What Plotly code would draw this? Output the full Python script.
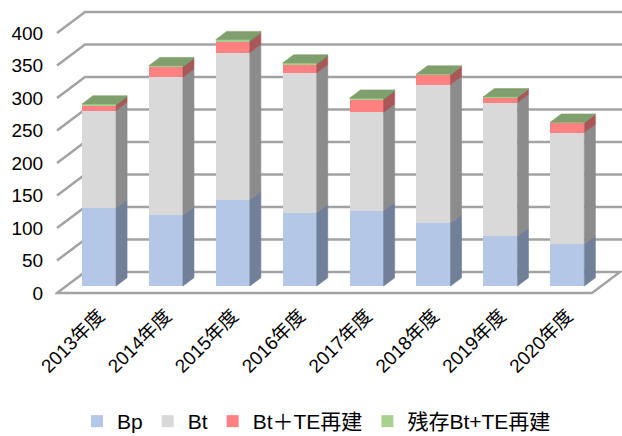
import plotly.graph_objects as go

# ---------------- data ----------------
years = ["2013年度", "2014年度", "2015年度", "2016年度",
         "2017年度", "2018年度", "2019年度", "2020年度"]
bp = [120, 109, 133, 113, 116, 97, 77, 65]
bt = [150, 212, 226, 215, 151, 213, 205, 171]
bt_te = [8, 16, 17, 13, 20, 15, 8, 15]
zanzon = [2, 2, 3, 2, 2, 1, 1, 1]
series_names = ["Bp", "Bt", "Bt＋TE再建", "残存Bt+TE再建"]
y_ticks = [0, 50, 100, 150, 200, 250, 300, 350, 400]

# ---------------- style ----------------
front_colors = ["#b4c7e7", "#d9d9d9", "#ff8080", "#a9d18e"]
side_colors = ["#717f98", "#8c8c8c", "#a85858", "#6f8f5f"]
top_color = "#7f9f6d"
grid_color = "#a3a3a3"
FONT = "Arial, Liberation Sans, Noto Sans CJK JP, sans-serif"

W, H = 622, 436
PX_PER_CAT = 66.9
PX_PER_UNIT = 0.65
BAR_W = 0.51
BAR_DX = 11 / PX_PER_CAT
BAR_DY = 8.25 / PX_PER_UNIT
FLOOR_DX = 28 / PX_PER_CAT
FLOOR_DY = 21 / PX_PER_UNIT
FRONT_DY = -7 / PX_PER_UNIT
X_FRONT_LEFT = (57 - 99) / PX_PER_CAT
X_FRONT_RIGHT = (592 - 99) / PX_PER_CAT
M_L, M_T, M_B = 55, 5, 136
PLOT_H = H - M_B - M_T
PLOT_W = W - M_L
x_range = [(M_L - 99) / PX_PER_CAT, (W - 99) / PX_PER_CAT]
y_range = [(286 - (H - M_B)) / PX_PER_UNIT, (286 - M_T) / PX_PER_UNIT]

series = [bp, bt, bt_te, zanzon]
xs = list(range(len(years)))

fig = go.Figure()

# front faces (real stacked bars)
for name, vals, col in zip(series_names, series, front_colors):
    fig.add_trace(go.Bar(x=xs, y=vals, name=name, width=BAR_W,
                         marker=dict(color=col, line=dict(width=0))))

# side faces
cum = [0] * len(xs)
for k, vals in enumerate(series):
    px_, py_ = [], []
    for i, v in enumerate(vals):
        y0, y1 = cum[i], cum[i] + v
        xr = i + BAR_W / 2
        px_ += [xr, xr + BAR_DX, xr + BAR_DX, xr, xr, None]
        py_ += [y0, y0 + BAR_DY, y1 + BAR_DY, y1, y0, None]
        cum[i] = y1
    fig.add_trace(go.Scatter(x=px_, y=py_, mode="lines", fill="toself",
                             fillcolor=side_colors[k], line=dict(width=0.6, color=side_colors[k]),
                             hoverinfo="skip", showlegend=False))

# top faces
tx, ty = [], []
for i, top in enumerate(cum):
    xl, xr = i - BAR_W / 2, i + BAR_W / 2
    tx += [xl, xl + BAR_DX, xr + BAR_DX, xr, xl, None]
    ty += [top, top + BAR_DY, top + BAR_DY, top, top, None]
fig.add_trace(go.Scatter(x=tx, y=ty, mode="lines", fill="toself",
                         fillcolor=top_color, line=dict(width=0.6, color=top_color),
                         hoverinfo="skip", showlegend=False))

# back-wall gridlines + floor (below traces)
shapes = []
for t in y_ticks:
    yf = t + FRONT_DY
    yb = yf + FLOOR_DY
    xb = X_FRONT_LEFT + FLOOR_DX
    if t == 0:
        path = (f"M {X_FRONT_LEFT},{yf} L {xb},{yb} L {X_FRONT_RIGHT + FLOOR_DX},{yb} "
                f"L {X_FRONT_RIGHT},{yf} Z")
    else:
        path = f"M {X_FRONT_LEFT},{yf} L {xb},{yb} L {x_range[1] + 0.1},{yb}"
    shapes.append(dict(type="path", path=path, xref="x", yref="y", layer="below",
                       line=dict(color=grid_color, width=2.5)))

fig.update_layout(
    width=W, height=H,
    barmode="stack",
    bargap=0,
    margin=dict(l=M_L, r=0, t=M_T, b=M_B, autoexpand=False),
    paper_bgcolor="white", plot_bgcolor="white",
    shapes=shapes,
    font=dict(family=FONT, size=18, color="#000000"),
    xaxis=dict(range=x_range, tickvals=xs, ticktext=years, tickangle=-45,
               showgrid=False, zeroline=False, showline=False, ticks="",
               tickfont=dict(size=19), automargin=False),
    yaxis=dict(range=y_range, tickvals=[t + FRONT_DY for t in y_ticks],
               ticktext=[str(t) for t in y_ticks], showgrid=False, zeroline=False,
               showline=False, ticks="outside", ticklen=7, tickcolor="rgba(0,0,0,0)",
               tickfont=dict(size=19), automargin=False),
    legend=dict(orientation="h", x=0.5 - 22 / PLOT_W, xanchor="center",
                y=-(M_B + 6) / PLOT_H,
                yanchor="bottom", font=dict(size=21), bgcolor="rgba(0,0,0,0)",
                traceorder="normal"),
    showlegend=True,
)

fig.write_html("out.html", config={"displayModeBar": False},
               post_script="document.body.style.margin='0';")
